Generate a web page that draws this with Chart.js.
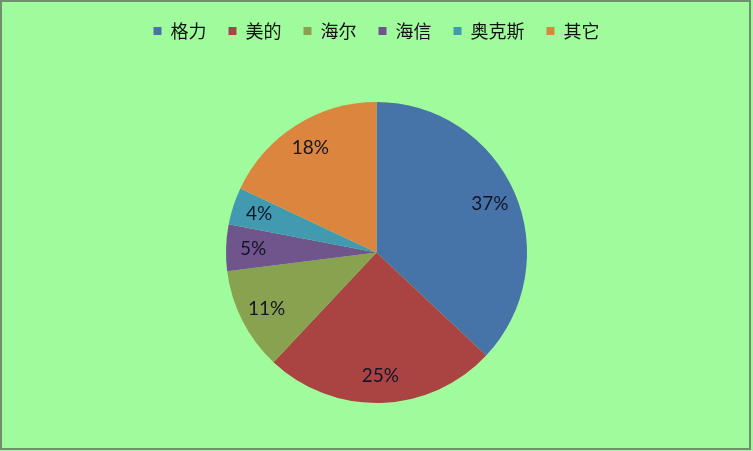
<!DOCTYPE html>
<html>
<head>
<meta charset="utf-8">
<script src="https://cdn.jsdelivr.net/npm/chart.js@4/dist/chart.umd.min.js"></script>
<style>
  html, body { margin: 0; padding: 0; background: #a0fb9c; }
  #wrap { position: absolute; left: 0; top: 0; width: 753px; height: 451px; }
  #frame { position: absolute; left: 0; top: 0; width: 747px; height: 446px; border: 2px solid #6f8f6f; }
  canvas { position: absolute; left: 0; top: 0; }
</style>
</head>
<body>
<div id="wrap">
  <div id="frame"></div>
  <canvas id="chart" width="753" height="451"></canvas>
</div>
<script>
// brands and share (%)
var brands = ['格力', '美的', '海尔', '海信', '奥克斯', '其它'];
var shares = [37, 25, 11, 5, 4, 18];
var colors = ['#4674a9', '#a94442', '#89a24f', '#70558c', '#419aaf', '#dc853e'];

// draws the percent text inside each slice
var sliceLabels = {
    id: 'sliceLabels',
    afterDatasetsDraw: function(chart) {
        var ctx = chart.ctx;
        var meta = chart.getDatasetMeta(0);
        ctx.save();
        ctx.font = '19px Lato, "Open Sans", sans-serif';
        ctx.fillStyle = '#141428';
        ctx.textAlign = 'center';
        ctx.textBaseline = 'middle';
        meta.data.forEach(function(arc, i) {
            var p = arc.getProps(['x', 'y', 'startAngle', 'endAngle', 'outerRadius'], true);
            var mid = (p.startAngle + p.endAngle) / 2;
            var r = p.outerRadius * 0.82;
            ctx.fillText(shares[i] + '%', p.x + Math.cos(mid) * r, p.y + Math.sin(mid) * r);
        });
        ctx.restore();
    }
};

// push the pie down, away from the legend
var legendGap = {
    id: 'legendGap',
    beforeInit: function(chart) {
        var fit = chart.legend.fit;
        chart.legend.fit = function() {
            fit.bind(chart.legend)();
            this.height += 52;
        };
    }
};

var ctx = document.getElementById('chart');

var myPieChart = new Chart(ctx, {
    type: 'pie',
    data: {
        labels: brands,
        datasets: [{
            data: shares,
            backgroundColor: colors,
            borderWidth: 0
        }]
    },
    options: {
        responsive: false,
        animation: false,
        layout: {
            padding: { top: 0, bottom: 48, left: 0, right: 0 }
        },
        plugins: {
            legend: {
                position: 'top',
                labels: {
                    boxWidth: 8,
                    boxHeight: 8,
                    padding: 22,
                    color: '#111',
                    font: { family: '"Noto Sans CJK SC", sans-serif', size: 18 }
                }
            },
            tooltip: { enabled: false }
        }
    },
    plugins: [sliceLabels, legendGap]
});
</script>
</body>
</html>
